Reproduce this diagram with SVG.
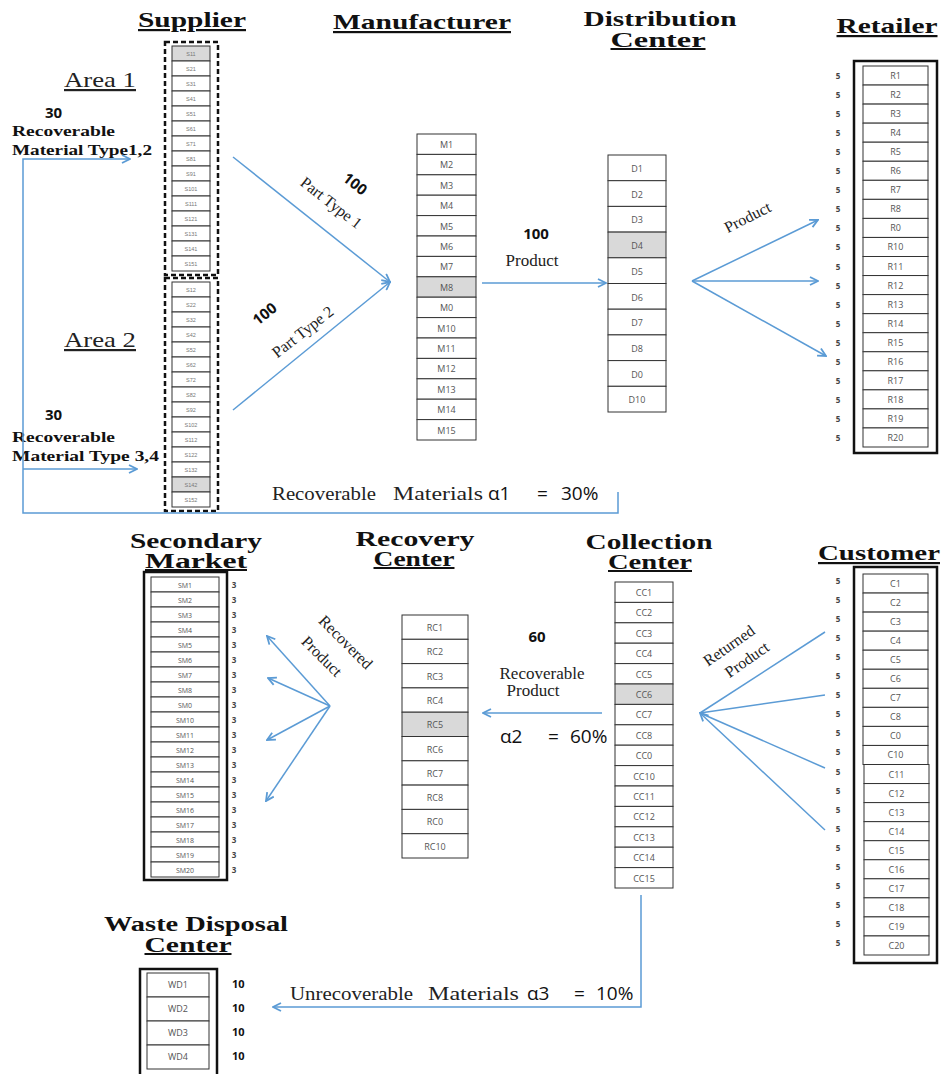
<svg xmlns="http://www.w3.org/2000/svg" width="943" height="1074" viewBox="0 0 943 1074">
<style>
.cell{fill:#fff;stroke:#333;stroke-width:1}
.sh{fill:#d9d9d9;stroke:#333;stroke-width:1}
.lbl{font-family:"Open Sans","Liberation Sans",sans-serif;font-size:9px;fill:#555;text-anchor:middle}
.slbl{font-family:"Liberation Sans",sans-serif;font-size:5.5px;fill:#777;text-anchor:middle}
.title{font-family:"Liberation Serif",serif;font-size:22px;font-weight:bold;fill:#111;text-anchor:middle;text-decoration:underline}
.t2{font-size:20px}
.area{font-family:"Liberation Serif",serif;font-size:22px;fill:#222;text-anchor:middle;text-decoration:underline}
.num{font-family:"Open Sans","Liberation Sans",sans-serif;font-size:15px;font-weight:bold;fill:#111}
.bs{font-family:"Liberation Serif",serif;font-size:15px;font-weight:bold;fill:#111}
.ser{font-family:"Liberation Serif",serif;font-size:17px;fill:#222}
.ser18{font-family:"Liberation Serif",serif;font-size:18px;fill:#222}
.alpha{font-family:"Open Sans","Liberation Sans",sans-serif;font-size:19px;fill:#111}
.cap{font-family:"Open Sans","Liberation Sans",sans-serif;font-size:8px;font-weight:bold;fill:#444;text-anchor:middle}
.cap10{font-family:"Open Sans","Liberation Sans",sans-serif;font-size:11px;font-weight:bold;fill:#111}
.outer{fill:none;stroke:#111;stroke-width:2.5}
.dash{fill:none;stroke:#111;stroke-width:2.5;stroke-dasharray:5,3}
.conn{fill:none;stroke:#5B9BD5;stroke-width:1.5;marker-end:url(#arr)}
.line{fill:none;stroke:#5B9BD5;stroke-width:1.5}
</style>
<defs>
<marker id="arr" viewBox="0 0 10 10" refX="9" refY="5" markerWidth="10" markerHeight="10" markerUnits="userSpaceOnUse" orient="auto">
<path d="M1,1 L9,5 L1,9" fill="none" stroke="#5B9BD5" stroke-width="1.8"/>
</marker>
</defs>
<rect width="943" height="1074" fill="#fff"/>

<!-- Titles -->
<text class="title" x="192" y="27" textLength="108" lengthAdjust="spacingAndGlyphs">Supplier</text>
<text class="title" x="422" y="29" textLength="178" lengthAdjust="spacingAndGlyphs">Manufacturer</text>
<text class="title t2" x="660" y="26" textLength="153" lengthAdjust="spacingAndGlyphs" style="text-decoration:none">Distribution</text>
<text class="title t2" x="658" y="47" textLength="95" lengthAdjust="spacingAndGlyphs">Center</text>
<text class="title" x="887" y="33" textLength="101" lengthAdjust="spacingAndGlyphs">Retailer</text>
<text class="title t2" x="196" y="548" textLength="132" lengthAdjust="spacingAndGlyphs" style="text-decoration:none">Secondary</text>
<text class="title t2" x="196" y="568" textLength="102" lengthAdjust="spacingAndGlyphs">Market</text>
<text class="title t2" x="415" y="546" textLength="119" lengthAdjust="spacingAndGlyphs" style="text-decoration:none">Recovery</text>
<text class="title t2" x="414" y="566" textLength="81" lengthAdjust="spacingAndGlyphs">Center</text>
<text class="title t2" x="649" y="549" textLength="127" lengthAdjust="spacingAndGlyphs" style="text-decoration:none">Collection</text>
<text class="title t2" x="650" y="569" textLength="84" lengthAdjust="spacingAndGlyphs">Center</text>
<text class="title" x="879" y="560" textLength="122" lengthAdjust="spacingAndGlyphs">Customer</text>
<text class="title t2" x="196" y="931" textLength="184" lengthAdjust="spacingAndGlyphs" style="text-decoration:none">Waste Disposal</text>
<text class="title t2" x="188" y="952" textLength="87" lengthAdjust="spacingAndGlyphs">Center</text>

<!-- Area labels -->
<text class="area" x="100" y="87" textLength="72" lengthAdjust="spacingAndGlyphs">Area 1</text>
<text class="area" x="100" y="347" textLength="72" lengthAdjust="spacingAndGlyphs">Area 2</text>
<text class="num" x="45" y="118">30</text>
<text class="bs" x="12" y="136" textLength="103" lengthAdjust="spacingAndGlyphs">Recoverable</text>
<text class="bs" x="12" y="155" textLength="140" lengthAdjust="spacingAndGlyphs">Material Type1,2</text>
<text class="num" x="45" y="420">30</text>
<text class="bs" x="12" y="442" textLength="103" lengthAdjust="spacingAndGlyphs">Recoverable</text>
<text class="bs" x="12" y="461" textLength="147" lengthAdjust="spacingAndGlyphs">Material Type 3,4</text>

<!-- Supplier Area 1 -->
<g id="supplier-area1">
<rect class="dash" x="165" y="42" width="53" height="233"/>
<rect class="sh" x="172" y="46" width="38" height="15"/><text class="slbl" x="191" y="56">S11</text>
<rect class="cell" x="172" y="61" width="38" height="15"/><text class="slbl" x="191" y="71">S21</text>
<rect class="cell" x="172" y="76" width="38" height="15"/><text class="slbl" x="191" y="86">S31</text>
<rect class="cell" x="172" y="91" width="38" height="15"/><text class="slbl" x="191" y="101">S41</text>
<rect class="cell" x="172" y="106" width="38" height="15"/><text class="slbl" x="191" y="116">S51</text>
<rect class="cell" x="172" y="121" width="38" height="15"/><text class="slbl" x="191" y="131">S61</text>
<rect class="cell" x="172" y="136" width="38" height="15"/><text class="slbl" x="191" y="146">S71</text>
<rect class="cell" x="172" y="151" width="38" height="15"/><text class="slbl" x="191" y="161">S81</text>
<rect class="cell" x="172" y="166" width="38" height="15"/><text class="slbl" x="191" y="176">S91</text>
<rect class="cell" x="172" y="181" width="38" height="15"/><text class="slbl" x="191" y="191">S101</text>
<rect class="cell" x="172" y="196" width="38" height="15"/><text class="slbl" x="191" y="206">S111</text>
<rect class="cell" x="172" y="211" width="38" height="15"/><text class="slbl" x="191" y="221">S121</text>
<rect class="cell" x="172" y="226" width="38" height="15"/><text class="slbl" x="191" y="236">S131</text>
<rect class="cell" x="172" y="241" width="38" height="15"/><text class="slbl" x="191" y="251">S141</text>
<rect class="cell" x="172" y="256" width="38" height="15"/><text class="slbl" x="191" y="266">S151</text>
</g>

<!-- Supplier Area 2 -->
<g id="supplier-area2">
<rect class="dash" x="165" y="278" width="53" height="233"/>
<rect class="cell" x="172" y="282" width="38" height="15"/><text class="slbl" x="191" y="292">S12</text>
<rect class="cell" x="172" y="297" width="38" height="15"/><text class="slbl" x="191" y="307">S22</text>
<rect class="cell" x="172" y="312" width="38" height="15"/><text class="slbl" x="191" y="322">S32</text>
<rect class="cell" x="172" y="327" width="38" height="15"/><text class="slbl" x="191" y="337">S42</text>
<rect class="cell" x="172" y="342" width="38" height="15"/><text class="slbl" x="191" y="352">S52</text>
<rect class="cell" x="172" y="357" width="38" height="15"/><text class="slbl" x="191" y="367">S62</text>
<rect class="cell" x="172" y="372" width="38" height="15"/><text class="slbl" x="191" y="382">S72</text>
<rect class="cell" x="172" y="387" width="38" height="15"/><text class="slbl" x="191" y="397">S82</text>
<rect class="cell" x="172" y="402" width="38" height="15"/><text class="slbl" x="191" y="412">S92</text>
<rect class="cell" x="172" y="417" width="38" height="15"/><text class="slbl" x="191" y="427">S102</text>
<rect class="cell" x="172" y="432" width="38" height="15"/><text class="slbl" x="191" y="442">S112</text>
<rect class="cell" x="172" y="447" width="38" height="15"/><text class="slbl" x="191" y="457">S122</text>
<rect class="cell" x="172" y="462" width="38" height="15"/><text class="slbl" x="191" y="472">S132</text>
<rect class="sh" x="172" y="477" width="38" height="15"/><text class="slbl" x="191" y="487">S142</text>
<rect class="cell" x="172" y="492" width="38" height="15"/><text class="slbl" x="191" y="502">S152</text>
</g>

<!-- Manufacturer -->
<g id="manufacturer">
<rect class="cell" x="417" y="134" width="59" height="20.4"/><text class="lbl" x="446.5" y="148">M1</text>
<rect class="cell" x="417" y="154.4" width="59" height="20.4"/><text class="lbl" x="446.5" y="168.4">M2</text>
<rect class="cell" x="417" y="174.8" width="59" height="20.4"/><text class="lbl" x="446.5" y="188.8">M3</text>
<rect class="cell" x="417" y="195.2" width="59" height="20.4"/><text class="lbl" x="446.5" y="209.2">M4</text>
<rect class="cell" x="417" y="215.6" width="59" height="20.4"/><text class="lbl" x="446.5" y="229.6">M5</text>
<rect class="cell" x="417" y="236" width="59" height="20.4"/><text class="lbl" x="446.5" y="250">M6</text>
<rect class="cell" x="417" y="256.4" width="59" height="20.4"/><text class="lbl" x="446.5" y="270.4">M7</text>
<rect class="sh" x="417" y="276.8" width="59" height="20.4"/><text class="lbl" x="446.5" y="290.8">M8</text>
<rect class="cell" x="417" y="297.2" width="59" height="20.4"/><text class="lbl" x="446.5" y="311.2">M0</text>
<rect class="cell" x="417" y="317.6" width="59" height="20.4"/><text class="lbl" x="446.5" y="331.6">M10</text>
<rect class="cell" x="417" y="338" width="59" height="20.4"/><text class="lbl" x="446.5" y="352">M11</text>
<rect class="cell" x="417" y="358.4" width="59" height="20.4"/><text class="lbl" x="446.5" y="372.4">M12</text>
<rect class="cell" x="417" y="378.8" width="59" height="20.4"/><text class="lbl" x="446.5" y="392.8">M13</text>
<rect class="cell" x="417" y="399.2" width="59" height="20.4"/><text class="lbl" x="446.5" y="413.2">M14</text>
<rect class="cell" x="417" y="419.6" width="59" height="20.4"/><text class="lbl" x="446.5" y="433.6">M15</text>
</g>

<!-- Distribution Center -->
<g id="distribution">
<rect class="cell" x="608" y="155" width="58" height="25.7"/><text class="lbl" x="637" y="172">D1</text>
<rect class="cell" x="608" y="180.7" width="58" height="25.7"/><text class="lbl" x="637" y="197.7">D2</text>
<rect class="cell" x="608" y="206.4" width="58" height="25.7"/><text class="lbl" x="637" y="223.4">D3</text>
<rect class="sh" x="608" y="232.1" width="58" height="25.7"/><text class="lbl" x="637" y="249.1">D4</text>
<rect class="cell" x="608" y="257.8" width="58" height="25.7"/><text class="lbl" x="637" y="274.8">D5</text>
<rect class="cell" x="608" y="283.5" width="58" height="25.7"/><text class="lbl" x="637" y="300.5">D6</text>
<rect class="cell" x="608" y="309.2" width="58" height="25.7"/><text class="lbl" x="637" y="326.2">D7</text>
<rect class="cell" x="608" y="334.9" width="58" height="25.7"/><text class="lbl" x="637" y="351.9">D8</text>
<rect class="cell" x="608" y="360.6" width="58" height="25.7"/><text class="lbl" x="637" y="377.6">D0</text>
<rect class="cell" x="608" y="386.3" width="58" height="25.7"/><text class="lbl" x="637" y="403.3">D10</text>
</g>

<!-- Retailer -->
<g id="retailer">
<rect class="outer" x="854" y="61" width="83" height="392"/>
<rect class="cell" x="863" y="66" width="65" height="19.05"/><text class="lbl" x="895.5" y="79">R1</text><text class="cap" x="838" y="79">5</text>
<rect class="cell" x="863" y="85.05" width="65" height="19.05"/><text class="lbl" x="895.5" y="98.05">R2</text><text class="cap" x="838" y="98.05">5</text>
<rect class="cell" x="863" y="104.1" width="65" height="19.05"/><text class="lbl" x="895.5" y="117.1">R3</text><text class="cap" x="838" y="117.1">5</text>
<rect class="cell" x="863" y="123.15" width="65" height="19.05"/><text class="lbl" x="895.5" y="136.15">R4</text><text class="cap" x="838" y="136.15">5</text>
<rect class="cell" x="863" y="142.2" width="65" height="19.05"/><text class="lbl" x="895.5" y="155.2">R5</text><text class="cap" x="838" y="155.2">5</text>
<rect class="cell" x="863" y="161.25" width="65" height="19.05"/><text class="lbl" x="895.5" y="174.25">R6</text><text class="cap" x="838" y="174.25">5</text>
<rect class="cell" x="863" y="180.3" width="65" height="19.05"/><text class="lbl" x="895.5" y="193.3">R7</text><text class="cap" x="838" y="193.3">5</text>
<rect class="cell" x="863" y="199.35" width="65" height="19.05"/><text class="lbl" x="895.5" y="212.35">R8</text><text class="cap" x="838" y="212.35">5</text>
<rect class="cell" x="863" y="218.4" width="65" height="19.05"/><text class="lbl" x="895.5" y="231.4">R0</text><text class="cap" x="838" y="231.4">5</text>
<rect class="cell" x="863" y="237.45" width="65" height="19.05"/><text class="lbl" x="895.5" y="250.45">R10</text><text class="cap" x="838" y="250.45">5</text>
<rect class="cell" x="863" y="256.5" width="65" height="19.05"/><text class="lbl" x="895.5" y="269.5">R11</text><text class="cap" x="838" y="269.5">5</text>
<rect class="cell" x="863" y="275.55" width="65" height="19.05"/><text class="lbl" x="895.5" y="288.55">R12</text><text class="cap" x="838" y="288.55">5</text>
<rect class="cell" x="863" y="294.6" width="65" height="19.05"/><text class="lbl" x="895.5" y="307.6">R13</text><text class="cap" x="838" y="307.6">5</text>
<rect class="cell" x="863" y="313.65" width="65" height="19.05"/><text class="lbl" x="895.5" y="326.65">R14</text><text class="cap" x="838" y="326.65">5</text>
<rect class="cell" x="863" y="332.7" width="65" height="19.05"/><text class="lbl" x="895.5" y="345.7">R15</text><text class="cap" x="838" y="345.7">5</text>
<rect class="cell" x="863" y="351.75" width="65" height="19.05"/><text class="lbl" x="895.5" y="364.75">R16</text><text class="cap" x="838" y="364.75">5</text>
<rect class="cell" x="863" y="370.8" width="65" height="19.05"/><text class="lbl" x="895.5" y="383.8">R17</text><text class="cap" x="838" y="383.8">5</text>
<rect class="cell" x="863" y="389.85" width="65" height="19.05"/><text class="lbl" x="895.5" y="402.85">R18</text><text class="cap" x="838" y="402.85">5</text>
<rect class="cell" x="863" y="408.9" width="65" height="19.05"/><text class="lbl" x="895.5" y="421.9">R19</text><text class="cap" x="838" y="421.9">5</text>
<rect class="cell" x="863" y="427.95" width="65" height="19.05"/><text class="lbl" x="895.5" y="440.95">R20</text><text class="cap" x="838" y="440.95">5</text>
</g>

<!-- Secondary Market -->
<g id="secondary-market">
<rect class="outer" x="144" y="572" width="83" height="308"/>
<rect class="cell" x="151" y="577" width="68" height="15"/><text class="lbl" x="185" y="588" style="font-size:7px">SM1</text><text class="cap" x="234" y="588">3</text>
<rect class="cell" x="151" y="592" width="68" height="15"/><text class="lbl" x="185" y="603" style="font-size:7px">SM2</text><text class="cap" x="234" y="603">3</text>
<rect class="cell" x="151" y="607" width="68" height="15"/><text class="lbl" x="185" y="618" style="font-size:7px">SM3</text><text class="cap" x="234" y="618">3</text>
<rect class="cell" x="151" y="622" width="68" height="15"/><text class="lbl" x="185" y="633" style="font-size:7px">SM4</text><text class="cap" x="234" y="633">3</text>
<rect class="cell" x="151" y="637" width="68" height="15"/><text class="lbl" x="185" y="648" style="font-size:7px">SM5</text><text class="cap" x="234" y="648">3</text>
<rect class="cell" x="151" y="652" width="68" height="15"/><text class="lbl" x="185" y="663" style="font-size:7px">SM6</text><text class="cap" x="234" y="663">3</text>
<rect class="cell" x="151" y="667" width="68" height="15"/><text class="lbl" x="185" y="678" style="font-size:7px">SM7</text><text class="cap" x="234" y="678">3</text>
<rect class="cell" x="151" y="682" width="68" height="15"/><text class="lbl" x="185" y="693" style="font-size:7px">SM8</text><text class="cap" x="234" y="693">3</text>
<rect class="cell" x="151" y="697" width="68" height="15"/><text class="lbl" x="185" y="708" style="font-size:7px">SM0</text><text class="cap" x="234" y="708">3</text>
<rect class="cell" x="151" y="712" width="68" height="15"/><text class="lbl" x="185" y="723" style="font-size:7px">SM10</text><text class="cap" x="234" y="723">3</text>
<rect class="cell" x="151" y="727" width="68" height="15"/><text class="lbl" x="185" y="738" style="font-size:7px">SM11</text><text class="cap" x="234" y="738">3</text>
<rect class="cell" x="151" y="742" width="68" height="15"/><text class="lbl" x="185" y="753" style="font-size:7px">SM12</text><text class="cap" x="234" y="753">3</text>
<rect class="cell" x="151" y="757" width="68" height="15"/><text class="lbl" x="185" y="768" style="font-size:7px">SM13</text><text class="cap" x="234" y="768">3</text>
<rect class="cell" x="151" y="772" width="68" height="15"/><text class="lbl" x="185" y="783" style="font-size:7px">SM14</text><text class="cap" x="234" y="783">3</text>
<rect class="cell" x="151" y="787" width="68" height="15"/><text class="lbl" x="185" y="798" style="font-size:7px">SM15</text><text class="cap" x="234" y="798">3</text>
<rect class="cell" x="151" y="802" width="68" height="15"/><text class="lbl" x="185" y="813" style="font-size:7px">SM16</text><text class="cap" x="234" y="813">3</text>
<rect class="cell" x="151" y="817" width="68" height="15"/><text class="lbl" x="185" y="828" style="font-size:7px">SM17</text><text class="cap" x="234" y="828">3</text>
<rect class="cell" x="151" y="832" width="68" height="15"/><text class="lbl" x="185" y="843" style="font-size:7px">SM18</text><text class="cap" x="234" y="843">3</text>
<rect class="cell" x="151" y="847" width="68" height="15"/><text class="lbl" x="185" y="858" style="font-size:7px">SM19</text><text class="cap" x="234" y="858">3</text>
<rect class="cell" x="151" y="862" width="68" height="15"/><text class="lbl" x="185" y="873" style="font-size:7px">SM20</text><text class="cap" x="234" y="873">3</text>
</g>

<!-- Recovery Center -->
<g id="recovery">
<rect class="cell" x="402" y="615" width="66" height="24.3"/><text class="lbl" x="435" y="631">RC1</text>
<rect class="cell" x="402" y="639.3" width="66" height="24.3"/><text class="lbl" x="435" y="655.3">RC2</text>
<rect class="cell" x="402" y="663.6" width="66" height="24.3"/><text class="lbl" x="435" y="679.6">RC3</text>
<rect class="cell" x="402" y="687.9" width="66" height="24.3"/><text class="lbl" x="435" y="703.9">RC4</text>
<rect class="sh" x="402" y="712.2" width="66" height="24.3"/><text class="lbl" x="435" y="728.2">RC5</text>
<rect class="cell" x="402" y="736.5" width="66" height="24.3"/><text class="lbl" x="435" y="752.5">RC6</text>
<rect class="cell" x="402" y="760.8" width="66" height="24.3"/><text class="lbl" x="435" y="776.8">RC7</text>
<rect class="cell" x="402" y="785.1" width="66" height="24.3"/><text class="lbl" x="435" y="801.1">RC8</text>
<rect class="cell" x="402" y="809.4" width="66" height="24.3"/><text class="lbl" x="435" y="825.4">RC0</text>
<rect class="cell" x="402" y="833.7" width="66" height="24.3"/><text class="lbl" x="435" y="849.7">RC10</text>
</g>

<!-- Collection Center -->
<g id="collection">
<rect class="cell" x="615" y="582" width="58" height="20.4"/><text class="lbl" x="644" y="596">CC1</text>
<rect class="cell" x="615" y="602.4" width="58" height="20.4"/><text class="lbl" x="644" y="616.4">CC2</text>
<rect class="cell" x="615" y="622.8" width="58" height="20.4"/><text class="lbl" x="644" y="636.8">CC3</text>
<rect class="cell" x="615" y="643.2" width="58" height="20.4"/><text class="lbl" x="644" y="657.2">CC4</text>
<rect class="cell" x="615" y="663.6" width="58" height="20.4"/><text class="lbl" x="644" y="677.6">CC5</text>
<rect class="sh" x="615" y="684" width="58" height="20.4"/><text class="lbl" x="644" y="698">CC6</text>
<rect class="cell" x="615" y="704.4" width="58" height="20.4"/><text class="lbl" x="644" y="718.4">CC7</text>
<rect class="cell" x="615" y="724.8" width="58" height="20.4"/><text class="lbl" x="644" y="738.8">CC8</text>
<rect class="cell" x="615" y="745.2" width="58" height="20.4"/><text class="lbl" x="644" y="759.2">CC0</text>
<rect class="cell" x="615" y="765.6" width="58" height="20.4"/><text class="lbl" x="644" y="779.6">CC10</text>
<rect class="cell" x="615" y="786" width="58" height="20.4"/><text class="lbl" x="644" y="800">CC11</text>
<rect class="cell" x="615" y="806.4" width="58" height="20.4"/><text class="lbl" x="644" y="820.4">CC12</text>
<rect class="cell" x="615" y="826.8" width="58" height="20.4"/><text class="lbl" x="644" y="840.8">CC13</text>
<rect class="cell" x="615" y="847.2" width="58" height="20.4"/><text class="lbl" x="644" y="861.2">CC14</text>
<rect class="cell" x="615" y="867.6" width="58" height="20.4"/><text class="lbl" x="644" y="881.6">CC15</text>
</g>

<!-- Customer -->
<g id="customer">
<rect class="outer" x="854" y="567" width="83" height="396"/>
<rect class="cell" x="863" y="574" width="65" height="19.05"/><text class="lbl" x="895.5" y="587">C1</text><text class="cap" x="838" y="584">5</text>
<rect class="cell" x="863" y="593.05" width="65" height="19.05"/><text class="lbl" x="895.5" y="606.05">C2</text><text class="cap" x="838" y="603.05">5</text>
<rect class="cell" x="863" y="612.1" width="65" height="19.05"/><text class="lbl" x="895.5" y="625.1">C3</text><text class="cap" x="838" y="622.1">5</text>
<rect class="cell" x="863" y="631.15" width="65" height="19.05"/><text class="lbl" x="895.5" y="644.15">C4</text><text class="cap" x="838" y="641.15">5</text>
<rect class="cell" x="863" y="650.2" width="65" height="19.05"/><text class="lbl" x="895.5" y="663.2">C5</text><text class="cap" x="838" y="660.2">5</text>
<rect class="cell" x="863" y="669.25" width="65" height="19.05"/><text class="lbl" x="895.5" y="682.25">C6</text><text class="cap" x="838" y="679.25">5</text>
<rect class="cell" x="863" y="688.3" width="65" height="19.05"/><text class="lbl" x="895.5" y="701.3">C7</text><text class="cap" x="838" y="698.3">5</text>
<rect class="cell" x="863" y="707.35" width="65" height="19.05"/><text class="lbl" x="895.5" y="720.35">C8</text><text class="cap" x="838" y="717.35">5</text>
<rect class="cell" x="863" y="726.4" width="65" height="19.05"/><text class="lbl" x="895.5" y="739.4">C0</text><text class="cap" x="838" y="736.4">5</text>
<rect class="cell" x="863" y="745.45" width="65" height="19.05"/><text class="lbl" x="895.5" y="758.45">C10</text><text class="cap" x="838" y="755.45">5</text>
<rect class="cell" x="864" y="764.5" width="65" height="19.05"/><text class="lbl" x="896.5" y="777.5">C11</text><text class="cap" x="838" y="774.5">5</text>
<rect class="cell" x="864" y="783.55" width="65" height="19.05"/><text class="lbl" x="896.5" y="796.55">C12</text><text class="cap" x="838" y="793.55">5</text>
<rect class="cell" x="864" y="802.6" width="65" height="19.05"/><text class="lbl" x="896.5" y="815.6">C13</text><text class="cap" x="838" y="812.6">5</text>
<rect class="cell" x="864" y="821.65" width="65" height="19.05"/><text class="lbl" x="896.5" y="834.65">C14</text><text class="cap" x="838" y="831.65">5</text>
<rect class="cell" x="864" y="840.7" width="65" height="19.05"/><text class="lbl" x="896.5" y="853.7">C15</text><text class="cap" x="838" y="850.7">5</text>
<rect class="cell" x="864" y="859.75" width="65" height="19.05"/><text class="lbl" x="896.5" y="872.75">C16</text><text class="cap" x="838" y="869.75">5</text>
<rect class="cell" x="864" y="878.8" width="65" height="19.05"/><text class="lbl" x="896.5" y="891.8">C17</text><text class="cap" x="838" y="888.8">5</text>
<rect class="cell" x="864" y="897.85" width="65" height="19.05"/><text class="lbl" x="896.5" y="910.85">C18</text><text class="cap" x="838" y="907.85">5</text>
<rect class="cell" x="864" y="916.9" width="65" height="19.05"/><text class="lbl" x="896.5" y="929.9">C19</text><text class="cap" x="838" y="926.9">5</text>
<rect class="cell" x="864" y="935.95" width="65" height="19.05"/><text class="lbl" x="896.5" y="948.95">C20</text><text class="cap" x="838" y="945.95">5</text>
</g>

<!-- Waste Disposal Center -->
<g id="waste-disposal">
<rect class="outer" x="140" y="969" width="77" height="110"/>
<rect class="cell" x="147" y="973" width="62" height="24"/><text class="lbl" x="178" y="988">WD1</text><text class="cap10" x="232" y="988">10</text>
<rect class="cell" x="147" y="997" width="62" height="24"/><text class="lbl" x="178" y="1012">WD2</text><text class="cap10" x="232" y="1012">10</text>
<rect class="cell" x="147" y="1021" width="62" height="24"/><text class="lbl" x="178" y="1036">WD3</text><text class="cap10" x="232" y="1036">10</text>
<rect class="cell" x="147" y="1045" width="62" height="24"/><text class="lbl" x="178" y="1060">WD4</text><text class="cap10" x="232" y="1060">10</text>
</g>

<!-- Connectors -->
<g id="connectors">
<path class="conn" d="M618,492 V513 H23 V159 H130"/>
<path class="conn" d="M23,469 H137"/>
<path class="conn" d="M233,157 L390,282"/>
<path class="conn" d="M233,410 L390,282"/>
<path class="conn" d="M482,283 L606,283"/>
<path class="conn" d="M692,281 L818,220"/>
<path class="conn" d="M692,281 L818,281"/>
<path class="conn" d="M692,281 L826,356"/>
<path class="conn" d="M602,713 L483,713"/>
<path class="line" d="M825,632 L700,713"/>
<path class="line" d="M825,695 L700,713"/>
<path class="line" d="M825,768 L700,713"/>
<path class="conn" d="M825,830 L700,713"/>
<path class="conn" d="M330,706 L267,636"/>
<path class="conn" d="M330,706 L268,678"/>
<path class="conn" d="M330,706 L267,740"/>
<path class="conn" d="M330,706 L266,801"/>
<path class="conn" d="M641,895 V1007 H273"/>
</g>

<!-- Connector labels -->
<g id="connector-labels">
<text class="num" x="352" y="188" text-anchor="middle" transform="rotate(38 352 188)">100</text>
<text class="ser" x="328" y="207" text-anchor="middle" transform="rotate(38 328 207)" style="font-size:16px">Part Type 1</text>
<text class="num" x="268" y="318" text-anchor="middle" transform="rotate(-38 268 318)">100</text>
<text class="ser" x="306" y="336" text-anchor="middle" transform="rotate(-38 306 336)" style="font-size:16px">Part Type 2</text>
<text class="num" x="536" y="239" text-anchor="middle">100</text>
<text class="ser" x="532" y="266" text-anchor="middle">Product</text>
<text class="ser" x="750" y="222" text-anchor="middle" transform="rotate(-27 750 222)" style="font-size:16px">Product</text>
<text class="ser18" y="500"><tspan x="272" textLength="104" lengthAdjust="spacingAndGlyphs">Recoverable</tspan><tspan x="393" textLength="90" lengthAdjust="spacingAndGlyphs">Materials</tspan></text>
<text class="alpha" y="500"><tspan x="488">α1</tspan><tspan x="537">=</tspan><tspan x="561">30%</tspan></text>
<text class="num" x="537" y="642" text-anchor="middle">60</text>
<text class="ser" x="542" y="679" text-anchor="middle">Recoverable</text>
<text class="ser" x="533" y="696" text-anchor="middle">Product</text>
<text class="alpha" y="743"><tspan x="500">α2</tspan><tspan x="548">=</tspan><tspan x="570">60%</tspan></text>
<text class="ser" x="732" y="650" text-anchor="middle" transform="rotate(-35 732 650)" style="font-size:16px">Returned</text>
<text class="ser" x="750" y="664" text-anchor="middle" transform="rotate(-35 750 664)" style="font-size:16px">Product</text>
<text class="ser" x="342" y="646" text-anchor="middle" transform="rotate(45 342 646)" style="font-size:16px">Recovered</text>
<text class="ser" x="318" y="660" text-anchor="middle" transform="rotate(45 318 660)" style="font-size:16px">Product</text>
<text class="ser18" y="1000"><tspan x="290" textLength="123" lengthAdjust="spacingAndGlyphs">Unrecoverable</tspan><tspan x="428" textLength="91" lengthAdjust="spacingAndGlyphs">Materials</tspan></text>
<text class="alpha" y="1000"><tspan x="527">α3</tspan><tspan x="574">=</tspan><tspan x="596">10%</tspan></text>
</g>
</svg>
